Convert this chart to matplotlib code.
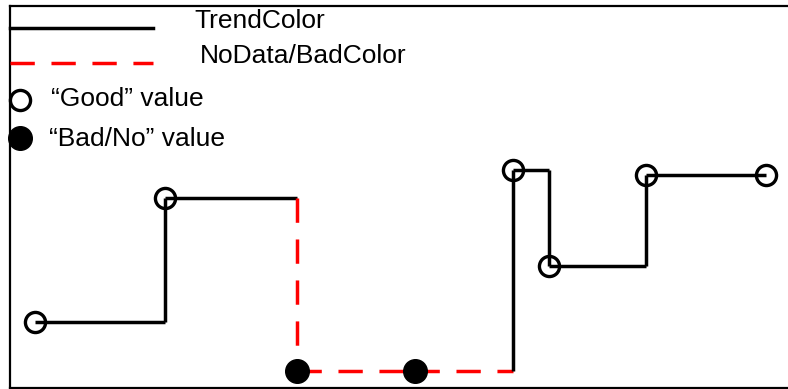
import numpy as np
import matplotlib.pyplot as plt

plt.rcParams['font.family'] = ['Liberation Sans', 'DejaVu Sans']

# trend samples (x position, value, quality)
xs = [35, 165, 297, 415, 513, 549, 646, 766]
ys = [66, 190, 17, 17, 218, 122, 213, 213]
good = [True, True, False, False, True, True, True, True]

trend_color = 'black'
bad_color = 'red'
legend_labels = ['TrendColor', 'NoData/BadColor', '\u201cGood\u201d value', '\u201cBad/No\u201d value']

W, H = 788, 389
fig = plt.figure(figsize=(W / 100, H / 100), dpi=100)
ax = fig.add_axes([10 / W, 1 / H, 1 - 10 / W + 0.02, 382 / H])
ax.set_xlim(10, 788 + 0.02 * W)
ax.set_ylim(0, 382)
ax.set_xticks([])
ax.set_yticks([])
ax.spines['right'].set_visible(False)
for s in ['left', 'top', 'bottom']:
    ax.spines[s].set_linewidth(1.6)

lw = 2.5
dash = (7.0, 4.8)


def seg(x0, x1, y0, y1, ok):
    if ok:
        ax.plot([x0, x1], [y0, y1], color=trend_color, lw=lw, solid_capstyle='butt')
    else:
        ax.plot([x0, x1], [y0, y1], color=bad_color, lw=lw, dashes=dash)


# step trend: horizontal coloured by left sample, vertical by right sample
for i in range(len(xs) - 1):
    seg(xs[i], xs[i + 1], ys[i], ys[i], good[i])
    seg(xs[i + 1], xs[i + 1], ys[i], ys[i + 1], good[i + 1])

for x, y, ok in zip(xs, ys, good):
    if ok:
        ax.plot(x, y, 'o', ms=14.5, mfc='none', mec='black', mew=2.4, clip_on=False)
    else:
        ax.plot(x, y, 'o', ms=17, mfc='black', mec='black', clip_on=False)


# legend drawn by hand, in pixel positions of the figure
def px(x, y):
    return x / W, 1 - y / H


t = fig.transFigure
l1 = plt.Line2D(*zip(px(10, 28), px(153, 28)), transform=t, color=trend_color, lw=lw)
l2 = plt.Line2D(*zip(px(10, 63), px(153, 63)), transform=t, color=bad_color, lw=lw, dashes=dash)
fig.add_artist(l1)
fig.add_artist(l2)
fig.add_artist(plt.Line2D([px(20, 100)[0]], [px(20, 100)[1]], transform=t, marker='o', ms=14.5,
                          mfc='none', mec='black', mew=2.4, ls='none'))
fig.add_artist(plt.Line2D([px(20, 138)[0]], [px(20, 138)[1]], transform=t, marker='o', ms=17,
                          mfc='black', mec='black', ls='none'))

fs = 19
fig.text(*px(194, 21), legend_labels[0], fontsize=fs, va='center', ha='left')
fig.text(*px(200, 56), legend_labels[1], fontsize=fs, va='center', ha='left')
fig.text(*px(51, 99), legend_labels[2], fontsize=fs, va='center', ha='left')
fig.text(*px(49, 139), legend_labels[3], fontsize=fs, va='center', ha='left')

fig.savefig('out.png', dpi=100)
